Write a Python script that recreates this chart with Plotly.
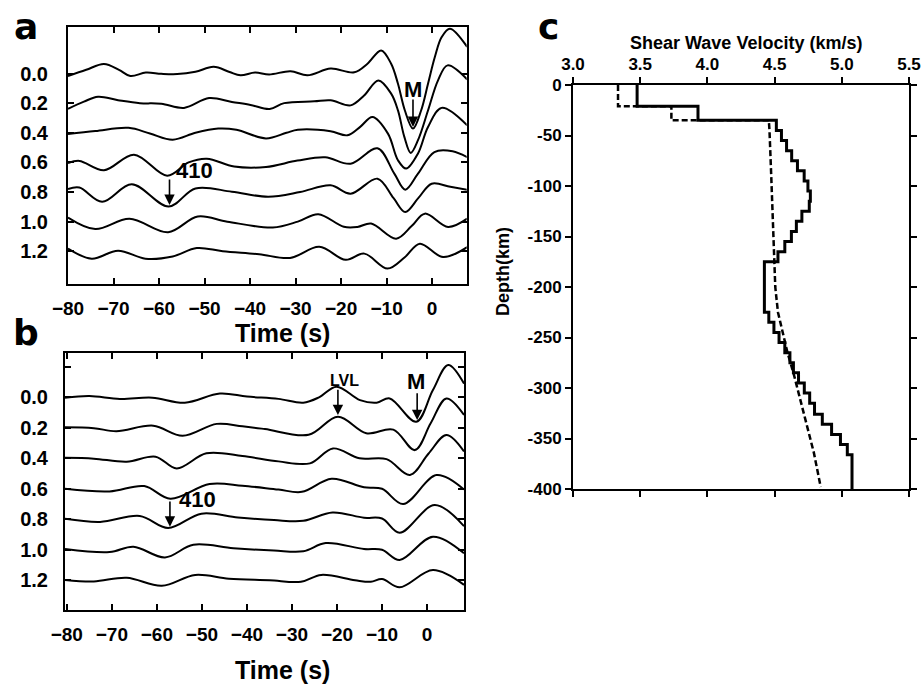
import plotly.graph_objects as go

W, H = 921, 687

# ---------------- panel a : receiver-function traces (time s, amplitude) ----------------
a_offsets = [0.0, 0.2, 0.4, 0.6, 0.8, 1.0, 1.2]
a_t_00 = [-80, -76, -72.1, -68.8, -66.3, -62.9, -59.5, -56, -52, -48, -44.5, -42.1, -38.9, -35.8, -31.1, -27.4,
          -22.3, -17.1, -14.2, -11.2, -9.0, -7.5, -6.0, -4.2, -2.4, -0.9, 0.6, 2.1, 3.9, 7.7]
a_v_00 = [-0.018, 0.025, 0.064, 0.025, -0.017, 0.006, -0.002, -0.004, 0.012, 0.045, 0.010, -0.012, 0.006, -0.006, 0.015, -0.012,
          0.033, 0.008, 0.066, 0.156, 0.066, -0.069, -0.248, -0.372, -0.248, -0.069, 0.111, 0.246, 0.303, 0.18]
a_t_02 = [-80, -76.5, -73.4, -69, -64.2, -59.5, -54.5, -49, -44, -39.9, -35.7, -32.5, -25.9, -22.3, -17.9, -15, -11.8,
          -9.0, -7.5, -6.1, -4.7, -3.1, -0.9, 1.3, 3.4, 7.7]
a_v_02 = [-0.038, 0.01, 0.043, 0.02, 0.0, -0.004, -0.032, 0.034, 0.008, -0.012, -0.040, 0.0, 0.012, 0.019, -0.015, 0.05, 0.153,
          0.064, -0.049, -0.228, -0.336, -0.25, -0.05, 0.154, 0.255, 0.16]
a_t_04 = [-80, -74, -66.7, -62, -57, -52, -47, -43, -36.5, -32, -29.5, -22.3, -18.6, -15.8, -13.1, -9.7, -7.5, -5.7,
          -3.1, -0.9, 2.1, 7.7]
a_v_04 = [-0.008, 0.012, 0.033, -0.005, -0.047, 0.0, 0.028, 0.02, -0.038, 0.0, 0.02, 0.01, -0.017, 0.04, 0.106, -0.006, -0.186, -0.242,
          -0.14, 0.039, 0.168, 0.05]
a_t_06 = [-80, -77.5, -72.1, -65.5, -58.2, -53.5, -49.5, -43.5, -36.5, -29.6, -23.5, -17.9, -12.0, -8.3, -5.9, -3.1, 0.5,
          4.5, 7.7]
a_v_06 = [-0.005, 0.01, -0.053, 0.052, -0.09, 0.0, 0.025, -0.028, -0.031, 0.012, 0.035, -0.009, 0.095, -0.076, -0.184, -0.076, 0.07,
          0.075, 0.035]
a_t_08 = [-80, -77.5, -72.5, -66, -57.9, -52, -44, -36, -29, -22.3, -17.9, -12.0, -8.5, -5.9, -3.0, -0.1, 4.0, 7.7]
a_v_08 = [0.02, 0.03, -0.066, 0.052, -0.098, 0.024, 0.002, -0.032, 0.0, 0.045, -0.011, 0.09, -0.04, -0.135, -0.04, 0.056, 0.035, 0.015]
a_t_10 = [-80, -74, -66.5, -58, -51.5, -45, -35, -29.5, -25, -19.4, -16.4, -13.4, -7.9, -4.5, -1.6, 3.5, 7.7]
a_v_10 = [0.028, -0.05, 0.02, -0.071, 0.035, 0.0, -0.04, 0.0, 0.05, -0.035, -0.036, -0.013, -0.115, -0.03, 0.054, -0.036, 0.02]
a_t_12 = [-80, -74.8, -69, -63, -57, -51.7, -46, -38, -31.2, -24.8, -19.0, -14.9, -9.8, -6.0, -2.7, 2.4, 7.7]
a_v_12 = [0.018, -0.05, 0.004, -0.05, -0.035, 0.022, 0.0, -0.02, -0.045, 0.03, -0.058, -0.016, -0.117, -0.04, 0.051, -0.039, 0.028]

# ---------------- panel b ----------------
b_offsets = [0.0, 0.2, 0.4, 0.6, 0.8, 1.0, 1.2]
b_t_00 = [-80.4, -75, -68.2, -61, -53.8, -46, -40, -33, -27.5, -24, -20.1, -14.9, -11.2, -8.3, -2.4, 1.3, 4.7, 8.2]
b_v_00 = [-0.002, 0.009, -0.01, -0.002, -0.035, 0.025, 0.005, -0.01, -0.035, 0.0, 0.07, -0.018, -0.035, -0.007, -0.16, 0.048, 0.212, 0.09]
b_t_02 = [-80.4, -74, -69, -60.8, -54.3, -46.7, -41, -36, -26.3, -19.8, -13.5, -7.5, -2.7, 0.8, 4.3, 8.2]
b_v_02 = [0.004, -0.002, -0.022, 0.014, -0.052, 0.026, 0.01, -0.008, -0.046, 0.073, -0.035, -0.012, -0.146, 0.03, 0.193, 0.085]
b_t_04 = [-80.4, -74, -66.7, -60.3, -55.6, -49, -41, -33, -26, -20.9, -15, -9, -3.8, 0.3, 4.3, 8.2]
b_v_04 = [0.003, -0.002, -0.022, 0.011, -0.066, 0.033, 0.015, -0.02, -0.033, 0.065, 0.0, -0.005, -0.109, 0.03, 0.153, 0.045]
b_t_06 = [-80.4, -70.5, -62.8, -57, -48.3, -41, -33, -27.8, -21.2, -14, -10, -5.3, 2.1, 8.2]
b_v_06 = [0.0, -0.017, 0.018, -0.065, 0.031, 0.02, -0.005, -0.02, 0.066, 0.01, 0.0, -0.1, 0.09, -0.005]
b_t_08 = [-80.4, -72.6, -63.8, -57.5, -50.1, -42, -34, -27.5, -21, -14, -10, -6.1, 1.7, 8.2]
b_v_08 = [0.003, -0.017, 0.022, -0.057, 0.037, 0.012, -0.005, -0.01, 0.045, 0.01, 0.005, -0.088, 0.094, -0.045]
b_t_10 = [-80.4, -70.5, -65.2, -58.2, -51.9, -43, -34, -27.5, -22.5, -14, -10, -6.1, 1.3, 8.2]
b_v_10 = [0.005, -0.015, 0.02, -0.05, 0.033, 0.01, -0.005, -0.01, 0.044, 0.005, 0.0, -0.067, 0.086, -0.023]
b_t_12 = [-80.4, -74, -66.7, -58.9, -51.5, -44, -35, -28, -23.5, -16, -12.5, -10, -6.1, 1.3, 8.2]
b_v_12 = [0.002, -0.008, 0.017, -0.036, 0.035, 0.01, 0.0, -0.01, 0.035, 0.0, -0.01, 0.008, -0.046, 0.067, -0.03]

# ---------------- panel c : shear-wave velocity profiles ----------------
c_layer_top = [0, 21, 35, 45, 55, 65, 75, 85, 95, 105, 115, 125, 135, 145, 155, 165, 175, 225, 235, 245,
               255, 265, 275, 285, 295, 305, 315, 326, 336, 346, 356, 366, 400]
c_layer_vs = [3.477, 3.93, 4.513, 4.551, 4.589, 4.627, 4.670, 4.72, 4.748, 4.766, 4.758, 4.703, 4.662, 4.625,
              4.576, 4.525, 4.424, 4.457, 4.495, 4.533, 4.576, 4.614, 4.640, 4.678, 4.721, 4.761, 4.797,
              4.855, 4.924, 4.990, 5.041, 5.076, 5.076]
c_ref_vs = [3.335, 3.335, 3.732, 3.732, 4.457, 4.462, 4.475, 4.487, 4.500, 4.505, 4.525, 4.558, 4.596,
            4.640, 4.678, 4.716, 4.754, 4.792, 4.822, 4.843]
c_ref_depth = [0, 21, 21, 35, 35, 45, 90, 140, 175, 200, 225, 245, 265, 285, 305, 325, 344, 364, 384, 398]

a_tick_time = [-80, -70, -60, -50, -40, -30, -20, -10, 0]
c_tick_vs = [3.0, 3.5, 4.0, 4.5, 5.0, 5.5]
c_tick_depth = [0, -50, -100, -150, -200, -250, -300, -350, -400]

FONT = "Liberation Sans"

fig = go.Figure()

a_traces = [(a_t_00, a_v_00), (a_t_02, a_v_02), (a_t_04, a_v_04), (a_t_06, a_v_06),
            (a_t_08, a_v_08), (a_t_10, a_v_10), (a_t_12, a_v_12)]
for off, (tt, vv) in zip(a_offsets, a_traces):
    fig.add_trace(go.Scatter(x=tt, y=[off - v for v in vv], mode="lines",
                             line=dict(color="black", width=2, shape="spline"),
                             xaxis="x", yaxis="y", showlegend=False))

b_traces = [(b_t_00, b_v_00), (b_t_02, b_v_02), (b_t_04, b_v_04), (b_t_06, b_v_06),
            (b_t_08, b_v_08), (b_t_10, b_v_10), (b_t_12, b_v_12)]
for off, (tt, vv) in zip(b_offsets, b_traces):
    fig.add_trace(go.Scatter(x=tt, y=[off - v for v in vv], mode="lines",
                             line=dict(color="black", width=2, shape="spline"),
                             xaxis="x2", yaxis="y2", showlegend=False))

fig.add_trace(go.Scatter(x=c_layer_vs, y=[-d for d in c_layer_top], mode="lines",
                         line=dict(color="black", width=3, shape="vh"),
                         xaxis="x3", yaxis="y3", showlegend=False))
fig.add_trace(go.Scatter(x=c_ref_vs, y=[-d for d in c_ref_depth], mode="lines",
                         line=dict(color="black", width=2.5, dash="6px,3px"),
                         xaxis="x3", yaxis="y3", showlegend=False))

tickfont_ab = dict(family=FONT, size=19, color="black", weight="bold")
tickfont_c = dict(family=FONT, size=17, color="black", weight="bold")

def px_x(p):
    return p / W

def px_y(p):
    return 1 - p / H

common_ab = dict(showline=True, linewidth=2, linecolor="black", mirror="ticks", ticks="inside",
                 ticklen=6, tickwidth=1.5, tickcolor="black", showgrid=False, zeroline=False,
                 automargin=False)
common_c = dict(showline=True, linewidth=2, linecolor="black", mirror="ticks", ticks="outside",
                ticklen=6, tickwidth=1.5, tickcolor="black", showgrid=False, zeroline=False,
                automargin=False)

fig.update_layout(
    width=W, height=H, margin=dict(l=0, r=0, t=0, b=0, autoexpand=False),
    paper_bgcolor="white", plot_bgcolor="white",
    xaxis=dict(domain=[px_x(68), px_x(466.7)], range=[-80, 7.6], anchor="y",
               tickvals=a_tick_time, tickfont=tickfont_ab, ticklabelstandoff=6, **common_ab),
    yaxis=dict(domain=[px_y(284), px_y(27)], range=[1.421, -0.314], anchor="x",
               tickvals=a_offsets, ticktext=["%.1f" % v for v in a_offsets],
               tickfont=dict(family=FONT, size=20, color="black", weight="bold"),
               ticklabelstandoff=14, **common_ab),
    xaxis2=dict(domain=[px_x(65), px_x(464)], range=[-80.4, 8.2], anchor="y2",
                tickvals=a_tick_time, tickfont=tickfont_ab, ticklabelstandoff=6, **common_ab),
    yaxis2=dict(domain=[px_y(610), px_y(353.3)], range=[1.395, -0.289], anchor="x2",
                tickvals=[-0.2] + b_offsets + [1.4],
                ticktext=[""] + ["%.1f" % v for v in b_offsets] + [""],
                tickfont=dict(family=FONT, size=20, color="black", weight="bold"),
                ticklabelstandoff=11, **common_ab),
    xaxis3=dict(domain=[px_x(573), px_x(909)], range=[3.0, 5.5], anchor="y3", side="top",
                tickvals=c_tick_vs, ticktext=["%.1f" % v for v in c_tick_vs], tickfont=tickfont_c,
                **common_c),
    yaxis3=dict(domain=[px_y(489), px_y(85)], range=[-400, 0], anchor="x3",
                tickvals=c_tick_depth, ticktext=[str(v) for v in c_tick_depth], tickfont=tickfont_c,
                **common_c),
)

ann = []
def label(text, x, y, size, family=FONT, angle=0):
    ann.append(dict(text=text, x=px_x(x), y=px_y(y), xref="paper", yref="paper", showarrow=False,
                    xanchor="center", yanchor="middle", textangle=angle,
                    font=dict(family=family, size=size, color="black", weight="bold")))

label("a", 26, 26, 36, family="DejaVu Sans")
label("b", 26, 332, 36, family="DejaVu Sans")
label("c", 548, 27, 36, family="DejaVu Sans")
label("Time (s)", 282, 333, 25)
label("Time (s)", 282, 670, 25)
label("Shear Wave Velocity (km/s)", 746, 43, 18)
label("Depth(km)", 503, 272, 18, angle=-90)

def arrow(text, xr, yr, tx, ty, tip_x, tip_y, tail_y, size):
    ann.append(dict(text=text, x=tx, y=ty, xref=xr, yref=yr, showarrow=False,
                    xanchor="center", yanchor="middle",
                    font=dict(family=FONT, size=size, color="black", weight="bold")))
    ann.append(dict(text="", x=tip_x, y=tip_y, ax=tip_x, ay=tail_y, xref=xr, yref=yr,
                    axref=xr, ayref=yr, showarrow=True, arrowhead=2, arrowsize=1.3,
                    arrowwidth=1.6, arrowcolor="black", standoff=0, startstandoff=0))

arrow("M", "x", "y", -4.1, 0.105, -4.2, 0.361, 0.165, 22)
arrow("410", "x", "y", -52.3, 0.658, -57.7, 0.887, 0.705, 22)
arrow("LVL", "x2", "y2", -18.3, -0.113, -19.8, 0.116, -0.059, 16)
arrow("M", "x2", "y2", -2.5, -0.107, -2.2, 0.149, -0.037, 22)
arrow("410", "x2", "y2", -51.0, 0.673, -57.1, 0.849, 0.673, 22)

fig.update_layout(annotations=ann)
fig.write_html("out.html")
